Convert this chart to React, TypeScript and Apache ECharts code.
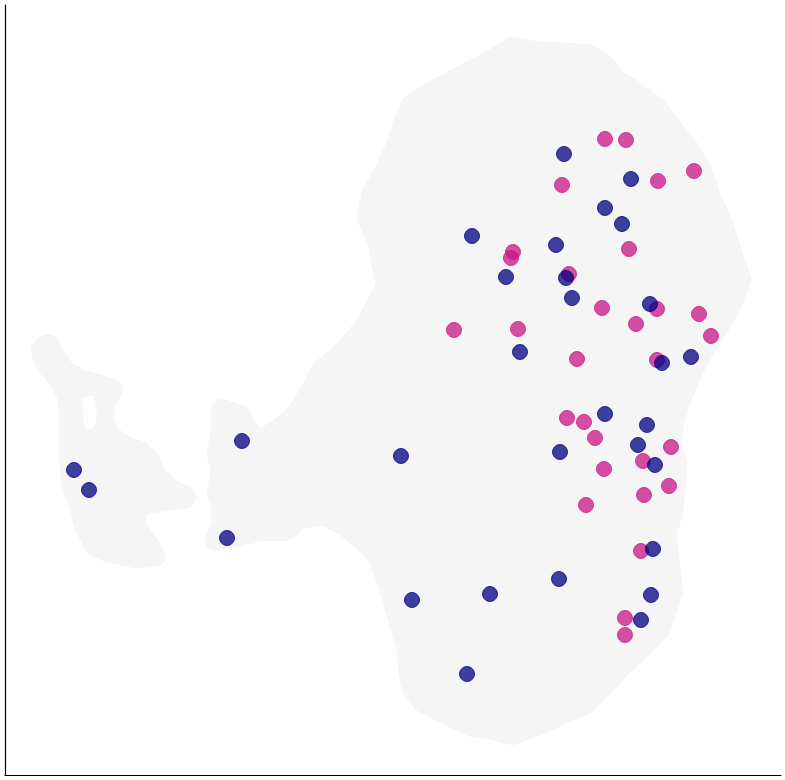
import React, { useEffect, useRef } from "react";
import * as echarts from "echarts";

// Coordinates are embedding units (x to the right, y downward).
const X_RANGE = [5, 781];
const Y_RANGE = [5, 775];

// Background cells (grey cloud), drawn as outlines of the dense regions
const mainBodyOutline: number[][] = [
  [512, 48], [535, 52], [588, 55], [606, 67], [615, 80], [635, 92], [655, 107],
  [668, 124], [686, 146], [700, 168], [710, 197], [722, 224], [732, 255], [740, 280],
  [730, 306], [715, 332], [700, 355], [690, 375], [680, 400], [673, 423], [670, 443],
  [676, 463], [676, 480], [672, 512], [666, 533], [669, 563], [672, 592], [660, 628],
  [648, 640], [633, 655], [622, 665], [610, 678], [597, 692], [583, 705], [565, 712],
  [545, 722], [513, 734], [493, 729], [473, 726], [445, 713], [425, 703], [413, 690],
  [409, 670], [408, 650], [401, 627], [394, 600], [384, 570], [375, 550], [360, 538],
  [345, 525], [325, 515], [300, 518], [285, 530], [262, 530], [240, 535], [216, 540],
  [222, 525], [222, 507], [218, 493], [222, 470], [218, 455], [222, 430], [222, 410],
  [240, 416], [250, 435], [262, 440], [278, 430], [292, 420], [303, 405], [313, 388],
  [322, 370], [338, 358], [352, 343], [365, 327], [378, 303], [387, 285], [382, 262],
  [378, 240], [368, 218], [372, 195], [386, 170], [396, 148], [405, 120], [412, 105],
  [432, 92], [455, 80], [480, 67], [498, 57],
];
const leftPieceOutline: number[][] = [
  [48, 345], [55, 358], [65, 372], [80, 380], [98, 385], [112, 390], [104, 402],
  [103, 420], [108, 435], [125, 447], [140, 452], [150, 462], [155, 475], [170, 490],
  [185, 497], [165, 500], [145, 503], [135, 510], [135, 527], [148, 545], [155, 556],
  [135, 557], [110, 552], [95, 545], [85, 525], [80, 505], [72, 482], [70, 460],
  [70, 440], [70, 415], [68, 395], [60, 380], [45, 362], [42, 350],
];
const cloudOutlines = [mainBodyOutline, leftPieceOutline];

// Empty gap inside the grey cloud
const cloudHoles: number[][][] = [
  [[84, 398], [94, 398], [95, 425], [86, 428], [83, 410]],
];

// Highlighted cells, group 1 (magenta)
const magentaX = [605, 626, 562, 658, 694, 629, 513, 511, 569, 602, 657, 636, 699, 711, 454, 518, 577, 657, 567, 584, 595, 671, 643, 604, 669, 644, 586, 641, 625, 625];
const magentaY = [139, 140, 185, 181, 171, 249, 252, 258, 274, 308, 309, 324, 314, 336, 330, 329, 359, 360, 418, 422, 438, 447, 461, 469, 486, 495, 505, 551, 618, 635];

// Highlighted cells, group 2 (navy)
const navyX = [564, 631, 605, 622, 472, 556, 506, 566, 572, 650, 520, 662, 691, 605, 647, 560, 638, 655, 401, 242, 74, 89, 227, 653, 559, 490, 651, 412, 641, 467];
const navyY = [154, 179, 208, 224, 236, 245, 277, 278, 298, 304, 352, 363, 357, 414, 425, 452, 445, 465, 456, 441, 470, 490, 538, 549, 579, 594, 595, 600, 620, 674];

const CLOUD = "#f5f5f5";

export default function App() {
  const ref = useRef<HTMLDivElement>(null);
  useEffect(() => {
    if (!ref.current) return;
    const chart = echarts.init(ref.current, null, { renderer: "svg" });
    const magenta = magentaX.map((x, i) => [x, magentaY[i]]);
    const navy = navyX.map((x, i) => [x, navyY[i]]);
    chart.setOption({
      animation: false,
      backgroundColor: "#ffffff",
      grid: { left: 5, right: 4, top: 5, bottom: 5 },
      xAxis: {
        type: "value",
        min: X_RANGE[0],
        max: X_RANGE[1],
        axisLine: { show: true, onZero: false, lineStyle: { color: "#000", width: 1.2 } },
        axisTick: { show: false },
        axisLabel: { show: false },
        splitLine: { show: false },
      },
      yAxis: {
        type: "value",
        min: Y_RANGE[0],
        max: Y_RANGE[1],
        inverse: true,
        axisLine: { show: true, onZero: false, lineStyle: { color: "#000", width: 1.2 } },
        axisTick: { show: false },
        axisLabel: { show: false },
        splitLine: { show: false },
      },
      series: [
        {
          type: "custom",
          silent: true,
          data: cloudOutlines.map((_, i) => [i]),
          renderItem: (params: any, api: any) => {
            const outline = cloudOutlines[params.dataIndex];
            const pts = outline.map((p) => api.coord(p));
            return {
              type: "polygon",
              shape: { points: pts },
              style: {
                fill: CLOUD,
                stroke: CLOUD,
                lineWidth: 22,
                lineJoin: "round",
              },
            };
          },
          z: 1,
        },
        {
          type: "custom",
          silent: true,
          data: cloudHoles.map((_, i) => [i]),
          renderItem: (params: any, api: any) => {
            const outline = cloudHoles[params.dataIndex];
            const pts = outline.map((p) => api.coord(p));
            return {
              type: "polygon",
              shape: { points: pts, smooth: 0.4 },
              style: { fill: "#ffffff", stroke: "none" },
            };
          },
          z: 2,
        },
        {
          type: "scatter",
          data: magenta,
          symbolSize: 15,
          itemStyle: {
            color: "rgba(199,21,133,0.75)",
            borderColor: "rgba(199,21,133,0.75)",
            borderWidth: 1,
            opacity: 1,
          },
          z: 3,
        },
        {
          type: "scatter",
          data: navy,
          symbolSize: 15,
          itemStyle: {
            color: "rgba(0,0,128,0.75)",
            borderColor: "rgba(0,0,128,0.75)",
            borderWidth: 1,
            opacity: 1,
          },
          z: 4,
        },
      ],
    });
    return () => chart.dispose();
  }, []);
  return (
    <div
      ref={ref}
      style={{ position: "absolute", left: 0, top: 0, width: 785, height: 780 }}
    />
  );
}
